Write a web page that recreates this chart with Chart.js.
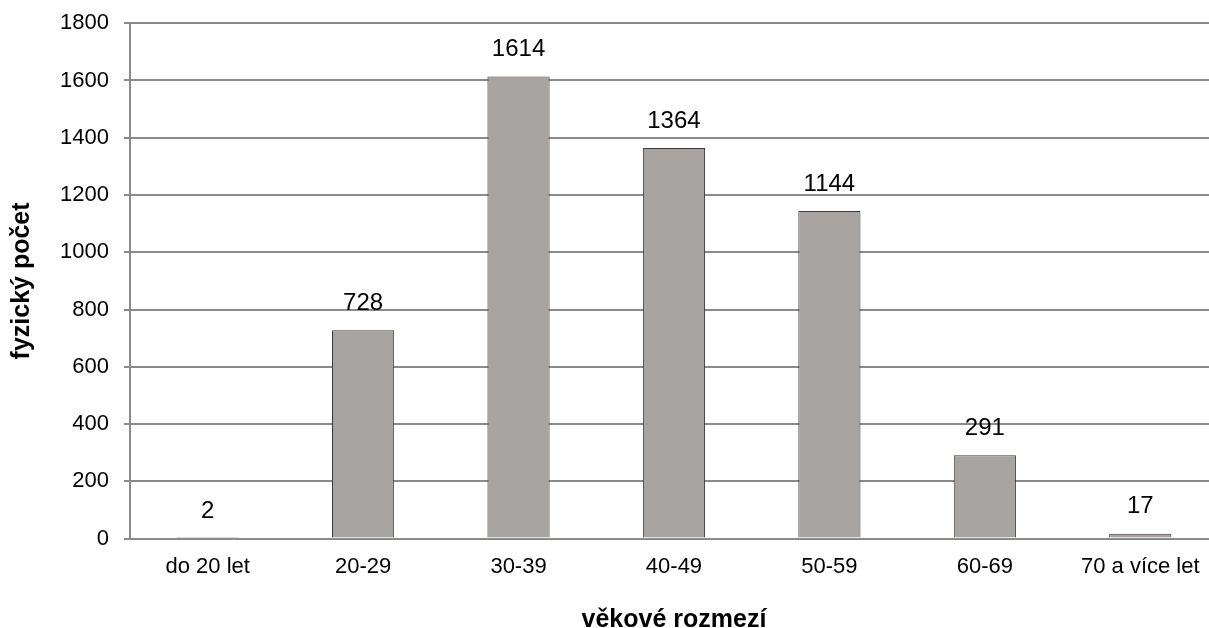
<html>
  <head>
    <style>
      body { margin: 0; overflow: hidden; background: #fff; }
      #wrap { width: 1218px; height: 641px; margin-top: -5px; }
    </style>
  </head>
  <body>
    <div id="wrap"><canvas id="myChart"></canvas></div>

    <script src="https://cdnjs.cloudflare.com/ajax/libs/Chart.js/4.4.1/chart.umd.min.js"></script>
    <script>
      const categories = ['do 20 let', '20-29', '30-39', '40-49', '50-59', '60-69', '70 a více let']
      const counts = [2, 728, 1614, 1364, 1144, 291, 17]
      const yTicks = [0, 200, 400, 600, 800, 1000, 1200, 1400, 1600, 1800]

      const font = "'Liberation Sans', Arial, sans-serif"
      const gridColor = '#8a8a8a'

      // value labels above the bars
      const valueLabels = {
        id: 'valueLabels',
        afterDatasetsDraw(chart) {
          const ctx = chart.ctx
          const meta = chart.getDatasetMeta(0)
          ctx.save()
          ctx.font = '24px ' + font
          ctx.fillStyle = '#000'
          ctx.textAlign = 'center'
          ctx.textBaseline = 'middle'
          meta.data.forEach((bar, i) => {
            ctx.fillText(String(counts[i]), bar.x, bar.y - 27)
          })
          ctx.restore()
        },
      }

      new Chart(document.getElementById('myChart'), {
        type: 'bar',
        data: {
          labels: categories,
          datasets: [
            {
              label: 'fyzický počet',
              data: counts,
              backgroundColor: '#a7a3a1',
              borderColor: '#3a3a3a',
              borderWidth: 1,
              barPercentage: 0.4,
              categoryPercentage: 1,
            },
          ],
        },
        options: {
          responsive: true,
          maintainAspectRatio: false,
          animation: false,
          layout: { padding: { top: 9, right: 0, bottom: 0, left: 0 } },
          plugins: {
            legend: { display: false },
            tooltip: { enabled: false },
          },
          scales: {
            x: {
              grid: { display: false, drawTicks: false },
              border: { color: gridColor, width: 2 },
              ticks: { color: '#000', font: { family: font, size: 22 }, padding: 15, maxRotation: 0 },
              title: {
                display: true,
                text: 'věkové rozmezí',
                color: '#000',
                font: { family: font, size: 25, weight: 'bold' },
                padding: { top: 10, bottom: 1 },
              },
            },
            y: {
              min: 0,
              max: 1800,
              afterBuildTicks(axis) {
                axis.ticks = yTicks.map((v) => ({ value: v }))
              },
              grid: { color: gridColor, lineWidth: 2, tickLength: 6 },
              border: { color: gridColor, width: 2 },
              ticks: {
                color: '#000',
                font: { family: font, size: 22 },
                padding: 15,
                callback: (v) => String(v),
              },
              title: {
                display: true,
                text: 'fyzický počet',
                color: '#000',
                font: { family: font, size: 25, weight: 'bold' },
                padding: { top: 7, bottom: 8 },
              },
            },
          },
        },
        plugins: [valueLabels],
      })
    </script>
  </body>
</html>
